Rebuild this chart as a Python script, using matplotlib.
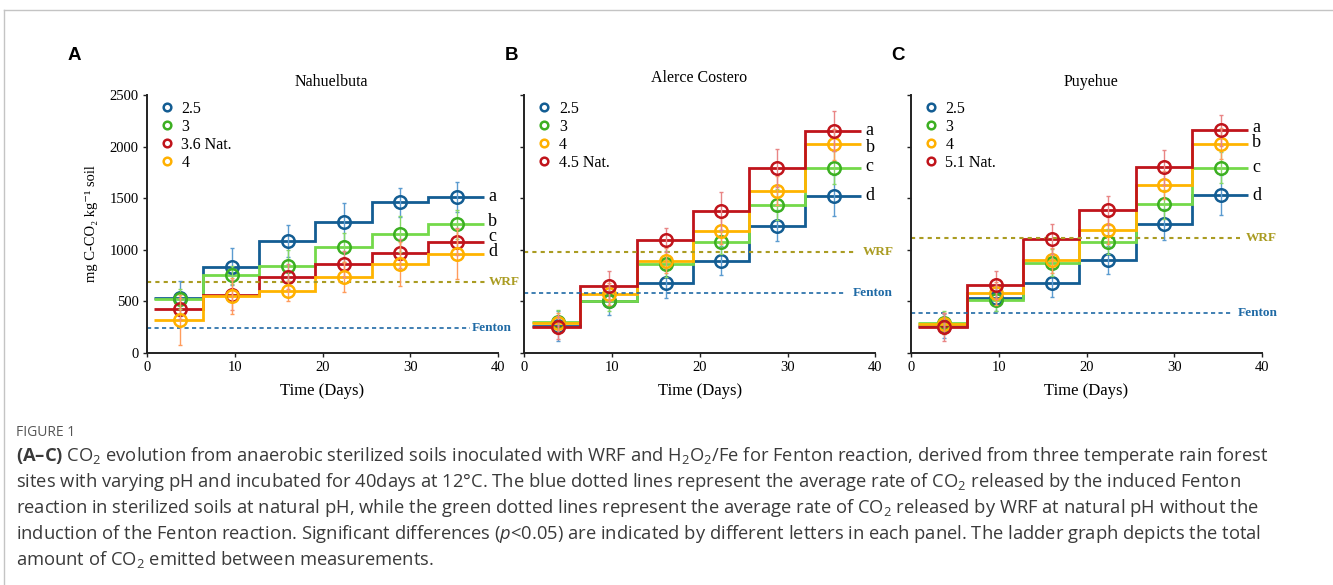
import numpy as np
import matplotlib.pyplot as plt
from matplotlib.lines import Line2D

plt.rcParams['font.family'] = ['Liberation Serif', 'DejaVu Serif']
plt.rcParams['mathtext.fontset'] = 'custom'
plt.rcParams['mathtext.rm'] = 'Open Sans'
plt.rcParams['mathtext.it'] = 'Open Sans:italic'
plt.rcParams['mathtext.bf'] = 'Open Sans:bold'

# ---- data (mg C-CO2 per kg soil) ----
days = [3.8, 9.7, 16.1, 22.45, 28.8, 35.3]
edges = [0.85, 6.4, 12.8, 19.2, 25.6, 32.0, 38.35]

# A  Nahuelbuta
A_labels = ['2.5', '3', '3.6 Nat.', '4']
A_vals = [[530, 836, 1085, 1266, 1460, 1515],
          [525, 756, 846, 1024, 1153, 1247],
          [429, 562, 739, 862, 966, 1079],
          [320, 552, 604, 739, 862, 956]]
A_err = [[170, 178, 155, 185, 142, 145],
         [100, 90, 150, 142, 174, 139],
         [100, 150, 120, 130, 140, 130],
         [243, 170, 97, 145, 210, 243]]
A_letters = ['a', 'b', 'c', 'd']
A_letter_y = [1515, 1270, 1125, 980]
A_wrf, A_fenton = 691, 239

# B  Alerce Costero
B_labels = ['2.5', '3', '4', '4.5 Nat.']
B_vals = [[258, 504, 675, 895, 1234, 1524],
          [303, 504, 862, 1076, 1437, 1793],
          [288, 572, 895, 1182, 1573, 2022],
          [249, 652, 1095, 1379, 1793, 2151]]
B_err = [[145, 136, 145, 140, 150, 200],
         [110, 100, 130, 120, 150, 160],
         [100, 110, 120, 130, 140, 150],
         [110, 145, 120, 185, 180, 195]]
B_letters = ['a', 'b', 'c', 'd']
B_letter_y = [2160, 1990, 1805, 1524]
B_wrf, B_fenton = 982, 584

# C  Puyehue
C_labels = ['2.5', '3', '4', '5.1 Nat.']
C_vals = [[262, 530, 681, 901, 1247, 1531],
          [294, 517, 875, 1079, 1441, 1796],
          [284, 578, 898, 1189, 1628, 2028],
          [252, 659, 1102, 1383, 1799, 2158]]
C_err = [[120, 120, 138, 139, 152, 197],
         [110, 110, 130, 120, 140, 150],
         [100, 110, 120, 130, 140, 150],
         [136, 136, 145, 140, 170, 150]]
C_letters = ['a', 'b', 'c', 'd']
C_letter_y = [2183, 2038, 1796, 1528]
C_wrf, C_fenton = 1111, 385

# colours
blue, green, red, yellow = '#135d93', '#3caf22', '#c0141b', '#ffb000'
line_col = {blue: '#135d93', green: '#74d94a', red: '#c0141b', yellow: '#ffb400'}
err_col = {blue: '#5b9bd0', green: '#86d866', red: '#e98585', yellow: '#ff9c5c'}
A_cols = [blue, green, red, yellow]
BC_cols = [blue, green, yellow, red]
wrf_col, fenton_col = '#aa9c22', '#1f6aa5'

fig = plt.figure(figsize=(13.33, 5.85), dpi=100)
W, H = 1333, 585

panels = [
    (147, 'A', 'Nahuelbuta', 0.526, 1.052, A_labels, A_vals, A_err, A_cols,
     A_letters, A_letter_y, A_wrf, A_fenton, (38.7, 38.9), (36.8, 37.0)),
    (524.3, 'B', 'Alerce Costero', 0.497, 1.064, B_labels, B_vals, B_err, BC_cols,
     B_letters, B_letter_y, B_wrf, B_fenton, (37.8, 38.6), (36.7, 37.4)),
    (911, 'C', 'Puyehue', 0.513, 1.052, C_labels, C_vals, C_err, BC_cols,
     C_letters, C_letter_y, C_wrf, C_fenton, (37.5, 38.1), (36.7, 37.2)),
]

for (x0, tag, title, tx, ty, labels, vals, errs, cols,
     letters, letter_y, wrf, fenton, wrf_pos, fen_pos) in panels:
    ax = fig.add_axes([x0 / W, 1 - 353 / H, 351 / W, 258 / H])
    ax.set_xlim(0, 40)
    ax.set_ylim(0, 2500)
    for s in ['top', 'right']:
        ax.spines[s].set_visible(False)
    for s in ['left', 'bottom']:
        ax.spines[s].set_color('#222222')
        ax.spines[s].set_linewidth(1.4)
    ax.set_xticks([0, 10, 20, 30, 40])
    ax.set_yticks([0, 500, 1000, 1500, 2000, 2500])
    ax.tick_params(length=3, width=1, color='#222222', labelsize=10.5, pad=3)
    if tag != 'A':
        ax.set_yticklabels([])
    else:
        ax.set_ylabel('mg C-CO₂ kg⁻¹ soil', fontsize=10.5, labelpad=8)
    ax.set_xlabel('Time (Days)', fontsize=12, labelpad=6)

    ax.hlines(wrf, 0, wrf_pos[0], colors=wrf_col, linestyles=(0, (2, 2)), lw=1.5)
    ax.hlines(fenton, 0, fen_pos[0], colors=fenton_col, linestyles=(0, (2.5, 2)), lw=1.2)
    ax.text(wrf_pos[1], wrf, 'WRF', color=wrf_col, fontsize=9.5, fontweight='bold',
            va='center', ha='left')
    ax.text(fen_pos[1], fenton, 'Fenton', color=fenton_col, fontsize=9.5,
            fontweight='bold', va='center', ha='left')

    handles = []
    for v, e, c, lab in zip(vals, errs, cols, labels):
        ax.stairs(v, edges, baseline=None, color=line_col[c], lw=2)
        ax.errorbar(days, v, yerr=e, fmt='none', ecolor=err_col[c], elinewidth=1,
                    capsize=1.5, capthick=1)
        ax.plot(days, v, 'o', ms=9, mfc='none', mec=c, mew=1.8)
        handles.append(Line2D([], [], ls='none', marker='o', ms=5.5, mfc='none',
                              mec=c, mew=1.8, label=lab))
    for lt, ly in zip(letters, letter_y):
        ax.text(38.9, ly, lt, fontsize=13, va='center', ha='left')

    ax.legend(handles=handles, loc='upper left', bbox_to_anchor=(0.03, 0.99),
              frameon=False, fontsize=11.5, handlelength=0.8, handletextpad=0.5,
              labelspacing=0.12, borderpad=0.2, borderaxespad=0)
    ax.text(tx, ty, title, transform=ax.transAxes, fontsize=11.5, ha='center',
            va='center')

# panel tags
for x, t in [(74, 'A'), (511, 'B'), (898, 'C')]:
    fig.text(x / W, 1 - 56 / H, t, family='Liberation Sans', fontweight='bold',
             fontsize=13.5, ha='center', va='center')

# outer frame
fig.add_artist(Line2D([4 / W, 4 / W], [0, 1 - 10 / H], transform=fig.transFigure,
                      color='#c4c4c4', lw=1))
fig.add_artist(Line2D([4 / W, 1], [1 - 10 / H, 1 - 10 / H], transform=fig.transFigure,
                      color='#c4c4c4', lw=1))

# caption
fig.text(16 / W, 1 - 433 / H, 'FIGURE 1', family='Open Sans', fontsize=10,
         color='#555555', va='center', ha='left')
caption = [
    r'$\mathbf{(A–C)}$ CO$_2$ evolution from anaerobic sterilized soils inoculated with WRF and H$_2$O$_2$/Fe for Fenton reaction, derived from three temperate rain forest',
    r'sites with varying pH and incubated for 40days at 12°C. The blue dotted lines represent the average rate of CO$_2$ released by the induced Fenton',
    r'reaction in sterilized soils at natural pH, while the green dotted lines represent the average rate of CO$_2$ released by WRF at natural pH without the',
    r'induction of the Fenton reaction. Significant differences ($\mathit{p}$<0.05) are indicated by different letters in each panel. The ladder graph depicts the total',
    r'amount of CO$_2$ emitted between measurements.',
]
for i, line in enumerate(caption):
    fig.text(16 / W, 1 - (456 + 26 * i) / H, line, family='Open Sans', fontsize=13.25,
             color='#3a3a3a', va='center', ha='left')

fig.savefig('out.png', dpi=100)
